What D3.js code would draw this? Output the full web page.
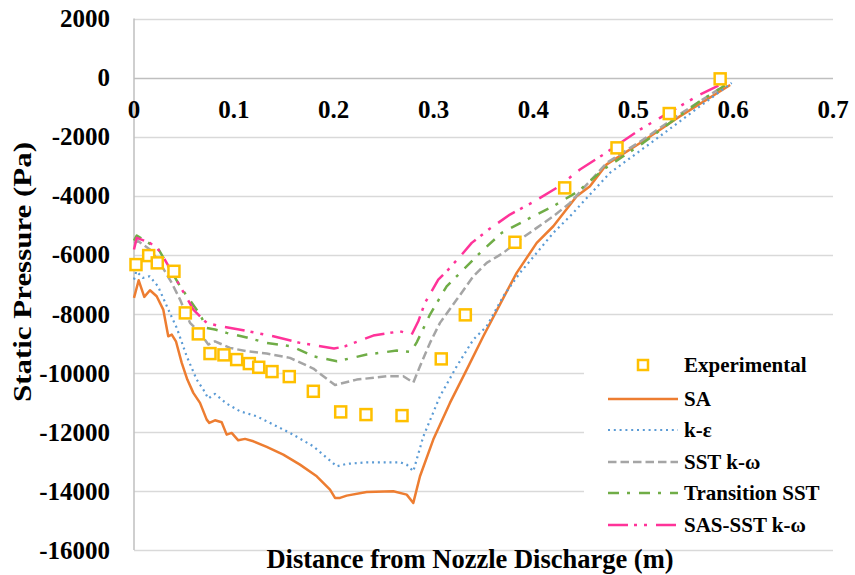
<!DOCTYPE html>
<html>
<head>
<meta charset="utf-8">
<script src="https://cdn.jsdelivr.net/npm/d3@7"></script>
<style>
  body { margin: 0; background: #fff; }
  svg { display: block; }
</style>
</head>
<body>
<div id="chart"></div>
<script>
// tick values
const X_TICKS = [0, 0.1, 0.2, 0.3, 0.4, 0.5, 0.6, 0.7];
const Y_TICKS = [2000, 0, -2000, -4000, -6000, -8000, -10000, -12000, -14000, -16000];

// measured points [distance (m), static pressure (Pa)]
const EXPERIMENTAL = [
  [0.002, -6334], [0.0147, -6029], [0.0233, -6276], [0.040, -6561], [0.0514, -7970],
  [0.0644, -8681], [0.0761, -9348], [0.0901, -9392], [0.1028, -9551], [0.1155, -9687],
  [0.1249, -9812], [0.1382, -9958], [0.1555, -10127], [0.1796, -10625], [0.207, -11323],
  [0.2323, -11414], [0.2684, -11448], [0.3077, -9528], [0.3318, -8037], [0.3815, -5578],
  [0.4313, -3736], [0.4837, -2381], [0.536, -1219], [0.587, -44]
];

const SA = [
  [0, -7462], [0.0047, -6866], [0.0103, -7428], [0.016, -7204], [0.0227, -7407],
  [0.0293, -7858], [0.0343, -8762], [0.0378, -8705], [0.042, -8932], [0.0478, -9663],
  [0.0534, -10229], [0.0594, -10679], [0.0661, -11018], [0.0728, -11584], [0.0754, -11695],
  [0.0811, -11607], [0.0878, -11675], [0.0928, -12092], [0.0978, -12034], [0.1044, -12285],
  [0.1112, -12237], [0.1195, -12319], [0.1329, -12508], [0.1495, -12769], [0.1662, -13108],
  [0.183, -13504], [0.1963, -13955], [0.2013, -14235], [0.2063, -14235], [0.213, -14158],
  [0.233, -14033], [0.2597, -14012], [0.2731, -14124], [0.2797, -14405], [0.2864, -13504],
  [0.2997, -12261], [0.3164, -11018], [0.3332, -9890], [0.3498, -8762], [0.3665, -7680],
  [0.3832, -6615], [0.4033, -5599], [0.4199, -5036], [0.4433, -4020], [0.4566, -3682],
  [0.473, -2950], [0.51, -2150], [0.545, -1350], [0.597, -250]
];

const K_EPSILON = [
  [0, -6842], [0.0023, -6561], [0.009, -6784], [0.0157, -6730], [0.024, -7069],
  [0.0307, -7577], [0.0374, -8085], [0.0428, -8478], [0.0528, -9440], [0.0628, -10229],
  [0.0694, -10567], [0.0744, -10872], [0.0811, -10713], [0.0928, -11042], [0.1061, -11302],
  [0.1229, -11472], [0.1395, -11753], [0.1562, -12034], [0.1796, -12488], [0.203, -13165],
  [0.213, -13084], [0.233, -13030], [0.2664, -13030], [0.2731, -13108], [0.2797, -13335],
  [0.2897, -12159], [0.3064, -10794], [0.3232, -9778], [0.3398, -8874], [0.3532, -8424],
  [0.3698, -7407], [0.3865, -6615], [0.4033, -5938], [0.4199, -5260], [0.4366, -4698],
  [0.4766, -3228], [0.5267, -1988], [0.5601, -1141], [0.5985, -180]
];

const SST_KW = [
  [0, -5599], [0.0043, -5544], [0.016, -5826], [0.026, -6276], [0.0378, -6954],
  [0.0461, -7519], [0.0561, -8308], [0.0661, -8647], [0.0744, -9043], [0.0811, -8932],
  [0.0961, -9155], [0.1129, -9270], [0.1329, -9348], [0.1562, -9494], [0.1796, -9856],
  [0.2013, -10415], [0.223, -10229], [0.253, -10117], [0.2697, -10117], [0.2797, -10330],
  [0.2864, -9778], [0.2964, -8986], [0.3064, -8308], [0.3232, -7519], [0.3398, -6730],
  [0.3532, -6276], [0.3698, -5938], [0.3865, -5487], [0.4033, -5091], [0.4199, -4698],
  [0.4366, -4244], [0.4734, -2889], [0.51, -2100], [0.5435, -1311], [0.5901, -295]
];

const TRANSITION_SST = [
  [0, -5520], [0.0027, -5352], [0.0243, -5802], [0.0461, -7069], [0.0661, -8027],
  [0.0728, -8478], [0.0811, -8535], [0.0928, -8647], [0.1129, -8806], [0.1329, -8986],
  [0.1579, -9101], [0.1796, -9440], [0.2033, -9609], [0.233, -9382], [0.2631, -9247],
  [0.2774, -9290], [0.2834, -8950], [0.2964, -8027], [0.3131, -7069], [0.3282, -6561],
  [0.3482, -5883], [0.3682, -5260], [0.3966, -4752], [0.4199, -4359], [0.4449, -3851],
  [0.47, -3116], [0.51, -2212], [0.5367, -1534], [0.5667, -803], [0.5917, -271]
];

const SAS_SST = [
  [0, -5826], [0.0027, -5429], [0.016, -5599], [0.026, -5883], [0.0327, -6276],
  [0.0528, -7462], [0.0594, -7858], [0.0728, -8308], [0.0794, -8366], [0.0878, -8424],
  [0.1145, -8593], [0.1395, -8762], [0.1662, -8986], [0.2003, -9179], [0.2113, -9101],
  [0.2396, -8738], [0.2664, -8593], [0.2781, -8705], [0.2847, -8254], [0.2914, -7631],
  [0.3047, -6842], [0.3147, -6503], [0.3282, -5995], [0.3382, -5599], [0.3565, -5114],
  [0.3765, -4640], [0.3983, -4244], [0.4233, -3736], [0.4466, -3116], [0.47, -2608],
  [0.5067, -1761], [0.5267, -1365], [0.5667, -576], [0.5968, -91]
];

const LINE_SERIES = [
  { name: 'SA', data: SA, color: '#ED7D31', dash: null, width: 2.5, cap: 'butt' },
  { name: 'k-\u03b5', data: K_EPSILON, color: '#5B9BD5', dash: '2 3.8', width: 2.2, cap: 'butt' },
  { name: 'SST k-\u03c9', data: SST_KW, color: '#A5A5A5', dash: '8.5 4', width: 2.5, cap: 'butt' },
  { name: 'Transition SST', data: TRANSITION_SST, color: '#70AD47', dash: '11 8 3 9', width: 2.5, cap: 'butt' },
  { name: 'SAS-SST k-\u03c9', data: SAS_SST, color: '#FF3399', dash: '20 6 3 7 3 9', width: 2.5, cap: 'butt' }
];

const W = 855, H = 575;
const FONT = '"Liberation Serif", "Times New Roman", serif';

const svg = d3.select('#chart').append('svg')
  .attr('width', W)
  .attr('height', H);

const x = d3.scaleLinear().domain([0, 0.7]).range([134, 833]);
const y = d3.scaleLinear().domain([2000, -16000]).range([18.5, 550]);

// horizontal gridlines
svg.append('g')
  .selectAll('line')
  .data(Y_TICKS)
  .join('line')
  .attr('x1', x(0))
  .attr('x2', x(0.7))
  .attr('y1', d => Math.round(y(d)) + 0.5)
  .attr('y2', d => Math.round(y(d)) + 0.5)
  .attr('stroke', d => d === 0 ? '#BFBFBF' : '#D9D9D9')
  .attr('stroke-width', d => d === 0 ? 1.5 : 1.3);

// vertical axis line
svg.append('line')
  .attr('x1', x(0)).attr('x2', x(0))
  .attr('y1', y(2000)).attr('y2', y(-16000))
  .attr('stroke', '#BFBFBF')
  .attr('stroke-width', 1.5);

// y tick labels
svg.append('g')
  .selectAll('text')
  .data(Y_TICKS)
  .join('text')
  .attr('x', 110)
  .attr('y', d => y(d))
  .attr('dy', '0.35em')
  .attr('text-anchor', 'end')
  .attr('font-family', FONT)
  .attr('font-weight', 'bold')
  .attr('font-size', '25px')
  .attr('fill', '#000')
  .text(d => d);

// x tick labels sit under the zero line
svg.append('g')
  .selectAll('text')
  .data(X_TICKS)
  .join('text')
  .attr('x', d => x(d))
  .attr('y', y(0) + 40)
  .attr('text-anchor', 'middle')
  .attr('font-family', FONT)
  .attr('font-weight', 'bold')
  .attr('font-size', '25px')
  .attr('fill', '#000')
  .text(d => d === 0 ? '0' : d3.format('.1f')(d));

// axis titles
svg.append('text')
  .attr('x', 470)
  .attr('y', 568)
  .attr('text-anchor', 'middle')
  .attr('font-family', FONT)
  .attr('font-weight', 'bold')
  .attr('font-size', '26.5px')
  .text('Distance from Nozzle Discharge (m)');

svg.append('text')
  .attr('transform', 'translate(31,272) rotate(-90)')
  .attr('text-anchor', 'middle')
  .attr('font-family', FONT)
  .attr('font-weight', 'bold')
  .attr('font-size', '26px')
  .attr('textLength', 260)
  .attr('lengthAdjust', 'spacingAndGlyphs')
  .text('Static Pressure (Pa)');

// model curves
const line = d3.line()
  .x(d => x(d[0]))
  .y(d => y(d[1]));

svg.append('g')
  .selectAll('path')
  .data(LINE_SERIES)
  .join('path')
  .attr('d', d => line(d.data))
  .attr('fill', 'none')
  .attr('stroke', d => d.color)
  .attr('stroke-width', d => d.width)
  .attr('stroke-linecap', d => d.cap)
  .attr('stroke-linejoin', 'round')
  .attr('stroke-dasharray', d => d.dash);

// experimental squares
const SQ = 11;
svg.append('g')
  .selectAll('rect')
  .data(EXPERIMENTAL)
  .join('rect')
  .attr('x', d => x(d[0]) - SQ / 2)
  .attr('y', d => y(d[1]) - SQ / 2)
  .attr('width', SQ)
  .attr('height', SQ)
  .attr('fill', '#fff')
  .attr('stroke', '#FFC000')
  .attr('stroke-width', 2.5);

// legend
const legend = svg.append('g');
legend.append('rect')
  .attr('x', 584).attr('y', 342)
  .attr('width', 266).attr('height', 204)
  .attr('fill', '#fff');

const LEG_Y = [365, 399, 430, 462, 493, 525];
const legendItems = [{ name: 'Experimental', marker: true }].concat(LINE_SERIES);

const items = legend.selectAll('g.item')
  .data(legendItems)
  .join('g')
  .attr('class', 'item')
  .attr('transform', (d, i) => `translate(0,${LEG_Y[i]})`);

items.filter(d => !d.marker)
  .append('line')
  .attr('x1', 608).attr('x2', 678)
  .attr('y1', 0).attr('y2', 0)
  .attr('stroke', d => d.color)
  .attr('stroke-width', d => d.width)
  .attr('stroke-dasharray', d => d.dash);

items.filter(d => d.marker)
  .append('rect')
  .attr('x', 643 - 5).attr('y', -5)
  .attr('width', 10).attr('height', 10)
  .attr('fill', '#fff')
  .attr('stroke', '#FFC000')
  .attr('stroke-width', 2.5);

items.append('text')
  .attr('x', 684)
  .attr('y', 0)
  .attr('dy', '0.35em')
  .attr('font-family', FONT)
  .attr('font-weight', 'bold')
  .attr('font-size', '21px')
  .text(d => d.name);
</script>
</body>
</html>
